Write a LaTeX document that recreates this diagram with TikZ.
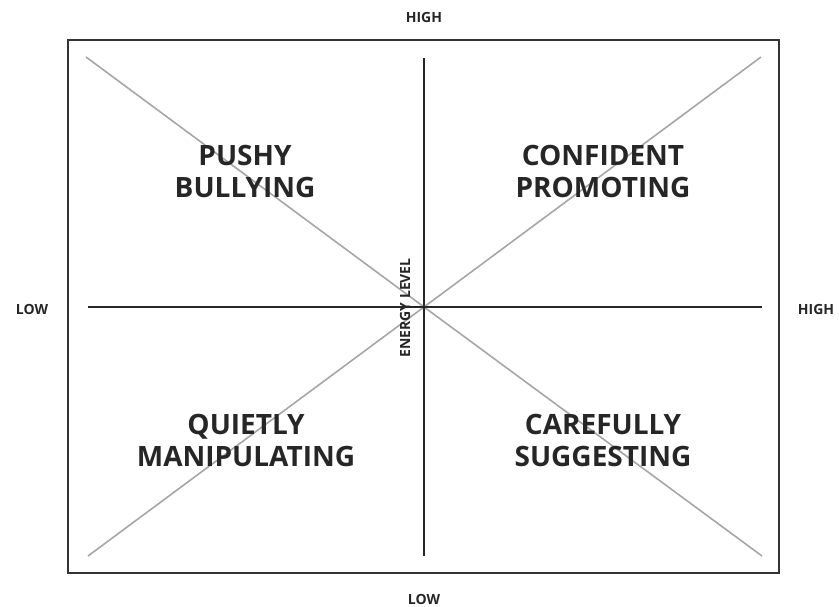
\documentclass[tikz,border=0pt]{standalone}
\usepackage{fontspec}
\setsansfont{Open Sans}
\begin{document}
\begin{tikzpicture}[x=1pt, y=-1pt,
    axis/.style={line width=2.2pt, black!85},
    diag/.style={line width=1.6pt, black!35},
    quad/.style={font=\sffamily\bfseries\fontsize{28}{32}\selectfont, align=center, text=black!85},
    tag/.style={font=\sffamily\bfseries\fontsize{14}{16}\selectfont, text=black!85}]

    % Fix the picture size
    \useasboundingbox (0,0) rectangle (839,607);

    % Define coordinates
    \coordinate (Centre) at (424, 307); % Crossing point
    \coordinate (AxisL) at (88, 307);
    \coordinate (AxisR) at (762, 307);
    \coordinate (AxisT) at (424, 58);
    \coordinate (AxisB) at (424, 556);
    \coordinate (CornerTL) at (86, 57);
    \coordinate (CornerTR) at (761, 57);
    \coordinate (CornerBL) at (88, 556);
    \coordinate (CornerBR) at (762, 556);

    % Outer frame
    \draw[line width=1.6pt, black!80] (68, 40) rectangle (779, 573);

    % Draw the diagonals
    \draw[diag] (CornerTL) -- (Centre) -- (CornerBR);
    \draw[diag] (CornerBL) -- (Centre) -- (CornerTR);

    % Draw the axes
    \draw[axis] (AxisL) -- (AxisR);
    \draw[axis] (AxisT) -- (AxisB);

    % Axis label along the vertical axis
    \node[tag, rotate=90] (Energy) at (405, 308) {ENERGY LEVEL};

    % End labels
    \node[tag] (HighT) at (424, 18) {HIGH};
    \node[tag] (LowB) at (424, 599) {LOW};
    \node[tag] (LowL) at (32, 309) {LOW};
    \node[tag] (HighR) at (816, 309) {HIGH};

    % Quadrant labels
    \node[quad] (Pushy) at (245, 171) {PUSHY\\BULLYING};
    \node[quad] (Confident) at (603, 171) {CONFIDENT\\PROMOTING};
    \node[quad] (Quietly) at (246, 440) {QUIETLY\\MANIPULATING};
    \node[quad] (Carefully) at (603, 440) {CAREFULLY\\SUGGESTING};

\end{tikzpicture}
\end{document}
